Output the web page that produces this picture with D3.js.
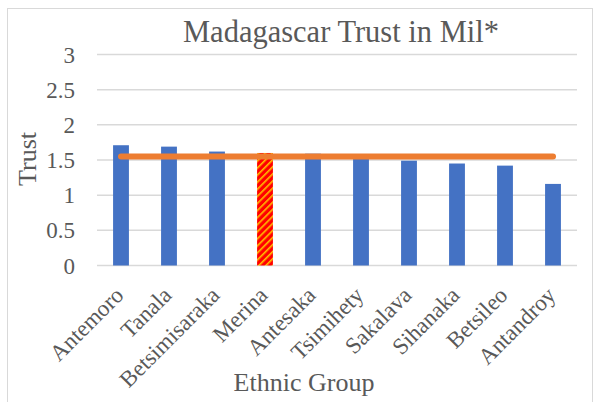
<!DOCTYPE html>
<html>
<head>
<meta charset="utf-8">
<script src="https://cdn.jsdelivr.net/npm/d3@7"></script>
<style>
  body { margin: 0; background: #fff; }
  text { font-family: "Liberation Serif", "Times New Roman", serif; fill: #595959; }
</style>
</head>
<body>
<svg id="chart" width="594" height="402"></svg>
<script>
// data
const groups = ["Antemoro", "Tanala", "Betsimisaraka", "Merina", "Antesaka",
                "Tsimihety", "Sakalava", "Sihanaka", "Betsileo", "Antandroy"];
const trust = [1.71, 1.69, 1.62, 1.60, 1.59, 1.54, 1.49, 1.45, 1.42, 1.16];
const average = [1.55, 1.55, 1.55, 1.55, 1.55, 1.55, 1.55, 1.55, 1.55, 1.55];
const yTicks = [0, 0.5, 1, 1.5, 2, 2.5, 3];
const highlight = "Merina";

const svg = d3.select("#chart");
const margin = { left: 97, right: 17, top: 54.5, bottom: 136.5 };
const W = 594, H = 402;

// chart frame
svg.append("rect")
    .attr("x", 7.5).attr("y", 8.5)
    .attr("width", 585).attr("height", 400)
    .attr("fill", "none").attr("stroke", "#D9D9D9").attr("stroke-width", 1);

// pattern for the highlighted bar
const pat = svg.append("defs").append("pattern")
    .attr("id", "stripes")
    .attr("patternUnits", "userSpaceOnUse")
    .attr("width", 5).attr("height", 5)
    .attr("patternTransform", "rotate(45)");
pat.append("rect").attr("width", 5).attr("height", 5).attr("fill", "#FF0000");
pat.append("rect").attr("x", 0).attr("width", 1.6).attr("height", 5).attr("fill", "#FFC000");

const x = d3.scaleBand()
    .domain(groups)
    .range([margin.left, W - margin.right])
    .paddingInner(0.67).paddingOuter(0.335);

const y = d3.scaleLinear()
    .domain([0, 3])
    .range([H - margin.bottom, margin.top]);

// gridlines
svg.append("g")
    .selectAll("line")
    .data(yTicks).enter()
    .append("line")
    .attr("x1", margin.left).attr("x2", W - margin.right)
    .attr("y1", d => y(d)).attr("y2", d => y(d))
    .attr("stroke", "#D9D9D9").attr("stroke-width", 1.5);

// y tick labels
svg.append("g")
    .selectAll("text")
    .data(yTicks).enter()
    .append("text")
    .attr("x", 75)
    .attr("y", d => y(d))
    .attr("dy", "0.35em")
    .attr("text-anchor", "end")
    .style("font-size", "23px")
    .text(d => d);

// bars
svg.append("g")
    .selectAll("rect")
    .data(groups).enter()
    .append("rect")
    .attr("x", d => x(d))
    .attr("width", x.bandwidth())
    .attr("y", (d, i) => y(trust[i]))
    .attr("height", (d, i) => y(0) - y(trust[i]))
    .attr("fill", d => d === highlight ? "url(#stripes)" : "#4472C4");

// average line
const line = d3.line()
    .x((d, i) => x(groups[i]) + x.bandwidth() / 2)
    .y(d => y(d));
svg.append("path")
    .datum(average)
    .attr("d", line)
    .attr("fill", "none")
    .attr("stroke", "#ED7D31")
    .attr("stroke-width", 6)
    .attr("stroke-linecap", "round");

// x tick labels, baseline end placed just right of the bar centre
svg.append("g")
    .selectAll("text")
    .data(groups).enter()
    .append("text")
    .attr("transform", d => `translate(${x(d) + x.bandwidth() / 2 + 4},${y(0) + 31}) rotate(-45)`)
    .attr("text-anchor", "end")
    .style("font-size", "23px")
    .text(d => d);

// titles
svg.append("text")
    .attr("x", 341).attr("y", 42)
    .attr("text-anchor", "middle")
    .style("font-size", "30.5px")
    .text("Madagascar Trust in Mil*");

svg.append("text")
    .attr("x", 304).attr("y", 391)
    .attr("text-anchor", "middle")
    .style("font-size", "26px")
    .text("Ethnic Group");

svg.append("text")
    .attr("transform", "translate(36,159) rotate(-90)")
    .attr("text-anchor", "middle")
    .style("font-size", "26px")
    .text("Trust");
</script>
</body>
</html>
